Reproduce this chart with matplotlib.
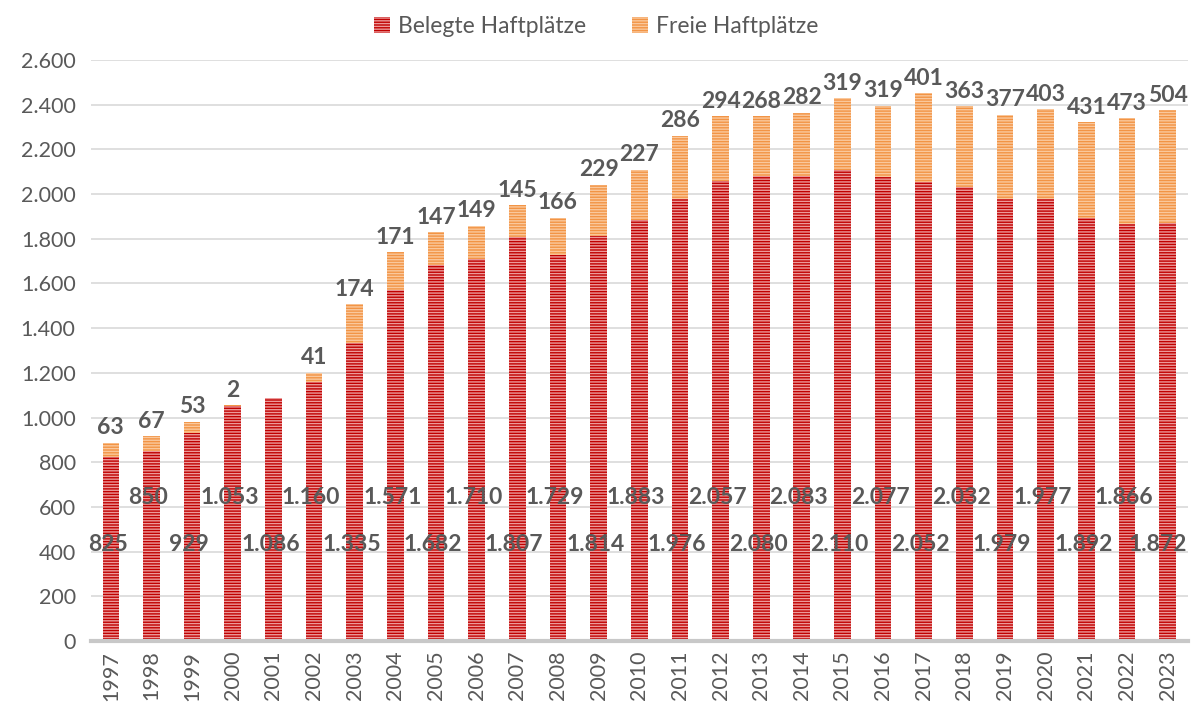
import matplotlib.pyplot as plt
from matplotlib.ticker import FuncFormatter
from matplotlib.patches import Patch

years = [str(y) for y in range(1997, 2024)]
belegt = [825, 850, 929, 1053, 1086, 1160, 1335, 1571, 1682, 1710, 1807, 1729, 1814,
          1883, 1976, 2057, 2080, 2083, 2110, 2077, 2052, 2032, 1979, 1977, 1892, 1866, 1872]
frei = [63, 67, 53, 2, 0, 41, 174, 171, 147, 149, 145, 166, 229,
        227, 286, 294, 268, 282, 319, 319, 401, 363, 377, 403, 431, 473, 504]

plt.rcParams['font.family'] = ['Lato', 'DejaVu Sans']
plt.rcParams['hatch.linewidth'] = 1.0
gray = '#595959'

fig = plt.figure(figsize=(11.92, 7.08), dpi=100)
ax = fig.add_axes([0.0763, 0.0946, 0.9203, 0.8206])

x = list(range(len(years)))
w = 0.41
ax.bar(x, belegt, width=w, color='#C00000', edgecolor='#EC9A9A', linewidth=0,
       hatch='------', zorder=2)
ax.bar(x, frei, width=w, bottom=belegt, color='#F29445', edgecolor='#FAC89C',
       linewidth=0, hatch='------', zorder=2)

# labels for occupied places, alternating heights
for i, v in enumerate(belegt):
    ypos = 430 if i % 2 == 0 else 644
    dx = -10 if i == len(belegt) - 1 else -3
    ax.annotate(f'{v:,}'.replace(',', '.'), (i, ypos), xytext=(dx, 0),
                textcoords='offset pixels', ha='center', va='center',
                fontsize=16.5, fontweight='bold', color=gray, zorder=3,
                annotation_clip=False)

# labels for free places
for i, v in enumerate(frei):
    if v == 0:
        continue
    ax.annotate(str(v), (i, belegt[i] + v), xytext=(0, 3), textcoords='offset points',
                ha='center', va='bottom', fontsize=16.5, fontweight='bold', color=gray,
                annotation_clip=False)

ax.set_xlim(-0.49, len(years) - 0.5)
ax.set_ylim(0, 2600)
ax.set_yticks(range(0, 2601, 200))
ax.yaxis.set_major_formatter(FuncFormatter(lambda v, p: f'{int(v):,}'.replace(',', '.')))
ax.set_xticks(x)
ax.set_xticklabels(years, rotation=90)
ax.tick_params(axis='both', length=0, labelsize=15.5, labelcolor=gray)
ax.tick_params(axis='x', pad=7)
ax.tick_params(axis='y', pad=11)
ax.grid(axis='y', color='#D9D9D9', linewidth=1.2, zorder=0)
ax.set_axisbelow(True)
for s in ['top', 'right', 'left']:
    ax.spines[s].set_visible(False)
ax.spines['bottom'].set_color('#C8C8C8')
ax.spines['bottom'].set_linewidth(3)

handles = [Patch(facecolor='#C00000', edgecolor='#EC9A9A', linewidth=0, hatch='------'),
           Patch(facecolor='#F29445', edgecolor='#FAC89C', linewidth=0, hatch='------')]
fig.legend(handles, ['Belegte Haftplätze', 'Freie Haftplätze'], loc='center',
           bbox_to_anchor=(0.5, 0.963), ncol=2, frameon=False, fontsize=16.5,
           labelcolor=gray, handlelength=0.7, handleheight=0.7, handletextpad=0.35,
           columnspacing=2.0)

fig.savefig('out.png', dpi=100)
